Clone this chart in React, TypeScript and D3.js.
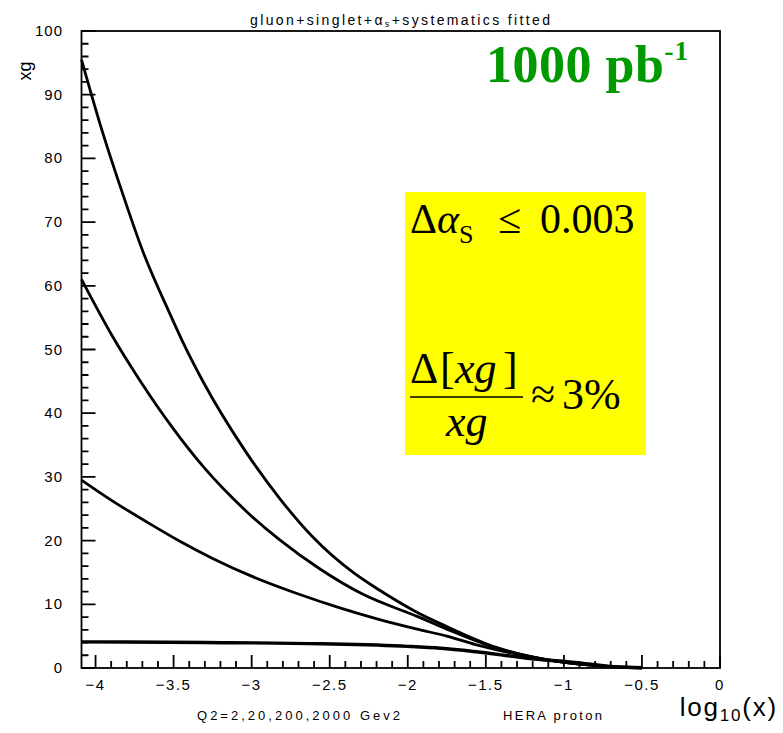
import * as d3 from 'd3'

// xg vs log10(x), one array per Q2 value
const curveQ2000: [number, number][] = [
  [-4.09, 95.5], [-3.97, 85.3], [-3.82, 74.0], [-3.7, 65.6], [-3.52, 55.4],
  [-3.43, 50.6], [-3.31, 44.9], [-3.05, 34.4], [-2.82, 26.6], [-2.61, 20.6],
  [-2.35, 15.0], [-2.18, 12.2], [-1.96, 9.0], [-1.75, 6.5], [-1.43, 3.2],
  [-1.11, 1.3], [-0.85, 0.5], [-0.68, 0.2], [-0.5, 0.05],
]
const curveQ200: [number, number][] = [
  [-4.09, 61.0], [-3.89, 52.0], [-3.72, 45.3], [-3.5, 37.5], [-3.31, 31.6],
  [-3.03, 24.5], [-2.82, 20.1], [-2.56, 15.5], [-2.29, 11.6], [-1.94, 8.1],
  [-1.75, 6.1], [-1.5, 3.7], [-1.2, 1.7], [-0.9, 0.6], [-0.65, 0.15], [-0.5, 0.03],
]
const curveQ20: [number, number][] = [
  [-4.09, 29.5], [-3.89, 26.2], [-3.67, 22.9], [-3.46, 19.9], [-3.25, 17.2],
  [-2.99, 14.3], [-2.71, 11.7], [-2.43, 9.4], [-2.18, 7.6], [-1.94, 6.1],
  [-1.75, 5.0], [-1.54, 3.5], [-1.22, 1.8], [-0.9, 0.6], [-0.65, 0.15], [-0.5, 0.03],
]
const curveQ2: [number, number][] = [
  [-4.09, 4.1], [-3.3, 4.0], [-2.55, 3.8], [-2.0, 3.4], [-1.79, 3.1],
  [-1.58, 2.6], [-1.22, 1.5], [-0.9, 0.8], [-0.68, 0.2], [-0.5, 0.05],
]
const curves = [curveQ2000, curveQ200, curveQ20, curveQ2]

const xTickValues = [-4, -3.5, -3, -2.5, -2, -1.5, -1, -0.5, 0]
const xTickLabels = ['−4', '−3.5', '−3', '−2.5', '−2', '−1.5', '−1', '−0.5', '0']
const yTickValues = [0, 10, 20, 30, 40, 50, 60, 70, 80, 90, 100]

const W = 783
const H = 733
const plot = { left: 81.5, right: 720, top: 31, bottom: 668 }

const sans = '"Liberation Sans", Arial, sans-serif'
const serif = '"Liberation Serif", "Times New Roman", serif'

export default function App() {
  const x = d3.scaleLinear().domain([-4.09, 0]).range([plot.left, plot.right])
  const y = d3.scaleLinear().domain([0, 100]).range([plot.bottom, plot.top])

  const curveGen = d3
    .line<[number, number]>()
    .x((d) => x(d[0]))
    .y((d) => y(d[1]))
    .curve(d3.curveMonotoneX)

  const xMinor = d3.range(-40, 1).map((i) => i / 10)
  const yMinor = d3.range(0, 51).map((i) => i * 2)

  // tick marks as one path
  const tickPath = d3.path()
  xMinor.forEach((v) => {
    tickPath.moveTo(x(v), plot.bottom)
    tickPath.lineTo(x(v), plot.bottom - 7)
  })
  yMinor.forEach((v) => {
    tickPath.moveTo(plot.left, y(v))
    tickPath.lineTo(plot.left + 7, y(v))
  })
  xTickValues.forEach((v) => {
    tickPath.moveTo(x(v), plot.bottom)
    tickPath.lineTo(x(v), plot.bottom - 13)
  })
  yTickValues.forEach((v) => {
    tickPath.moveTo(plot.left, y(v))
    tickPath.lineTo(plot.left + 14, y(v))
  })

  return (
    <svg
      width={W}
      height={H}
      style={{ position: 'absolute', left: 0, top: 0, background: '#fff' }}
    >
      {/* title */}
      <text x={400} y={25} textAnchor="middle" fontFamily={sans} fontSize={14} textLength={300}>
        gluon+singlet+α<tspan fontSize={9} dy={2}>s</tspan>
        <tspan dy={-2}>+systematics fitted</tspan>
      </text>

      {/* yellow info box */}
      <rect x={405} y={192} width={241} height={263} fill="#ffff00" />

      {/* curves */}
      {curves.map((c, i) => (
        <path
          key={i}
          d={curveGen(c) || ''}
          fill="none"
          stroke="#000"
          strokeWidth={i === 3 ? 3.4 : 2.8}
        />
      ))}

      {/* ticks */}
      <path d={tickPath.toString()} fill="none" stroke="#000" strokeWidth={1.8} />

      {xTickValues.map((v, i) => (
        <text key={'xl' + v} x={x(v)} y={690} textAnchor="middle" fontFamily={sans} fontSize={15} letterSpacing={1.5}>
          {xTickLabels[i]}
        </text>
      ))}
      {yTickValues.map((v) => (
        <text key={'yl' + v} x={63} y={y(v) + 5} textAnchor="end" fontFamily={sans} fontSize={15} letterSpacing={1}>
          {v}
        </text>
      ))}

      {/* frame */}
      <rect
        x={plot.left}
        y={plot.top}
        width={plot.right - plot.left}
        height={plot.bottom - plot.top}
        fill="none"
        stroke="#000"
        strokeWidth={1.8}
      />

      {/* axis titles */}
      <text transform="translate(31,71) rotate(-90)" textAnchor="middle" fontFamily={sans} fontSize={18}>
        xg
      </text>
      <text x={778} y={716} textAnchor="end" fontFamily={sans} fontSize={26} fontWeight={300} letterSpacing={1.8}>
        log<tspan fontSize={17} dy={5}>10</tspan>
        <tspan dy={-5}>(x)</tspan>
      </text>

      {/* footer */}
      <text x={197} y={720} fontFamily={sans} fontSize={13} textLength={203}>
        Q2=2,20,200,2000 Gev2
      </text>
      <text x={503} y={720} fontFamily={sans} fontSize={13} textLength={99}>
        HERA proton
      </text>

      {/* luminosity label */}
      <text x={486} y={82} fontFamily={serif} fontSize={52} fontWeight="bold" fill="#009a00" letterSpacing={0.5}>
        1000 pb<tspan fontSize={28} dy={-22}>-1</tspan>
      </text>

      {/* box text */}
      <text x={410} y={233} fontFamily={serif} fontSize={42}>
        Δ<tspan fontStyle="italic">α</tspan>
        <tspan fontSize={26} dy={10}>S</tspan>
        <tspan x={498} dy={-10}>≤</tspan>
        <tspan x={540}>0.003</tspan>
      </text>
      <text x={410} y={383} fontFamily={serif} fontSize={44}>
        Δ<tspan x={440}>[</tspan>
        <tspan x={455} fontStyle="italic">xg</tspan>
        <tspan x={503}>]</tspan>
      </text>
      <line x1={410} x2={523} y1={397} y2={397} stroke="#000" strokeWidth={1.6} />
      <text x={446} y={436} fontFamily={serif} fontSize={44} fontStyle="italic">
        xg
      </text>
      <text x={531} y={409} fontFamily={serif} fontSize={44}>
        ≈<tspan x={562}>3%</tspan>
      </text>
    </svg>
  )
}
